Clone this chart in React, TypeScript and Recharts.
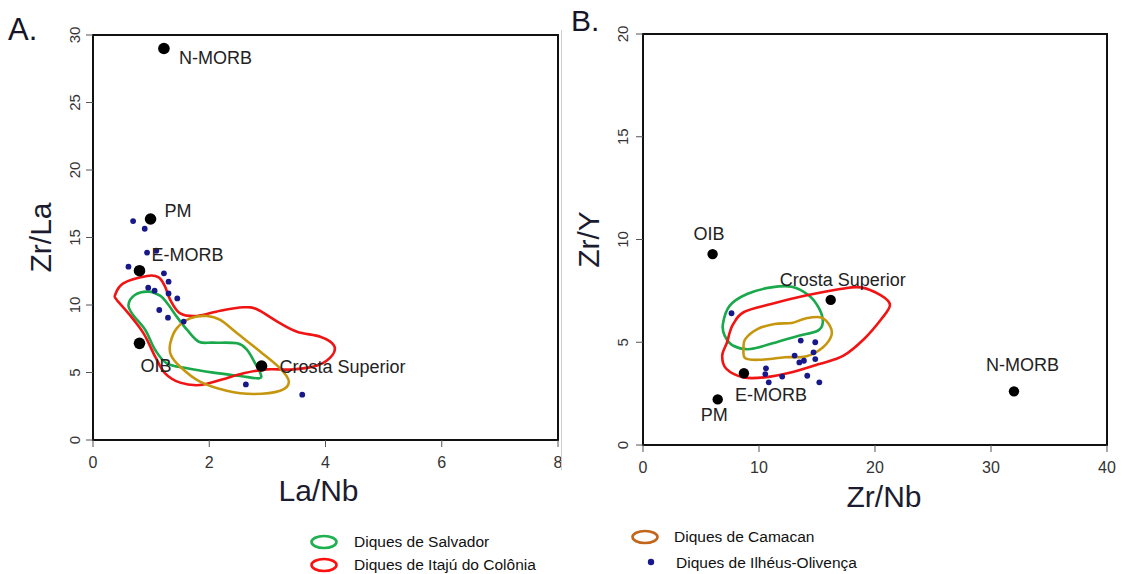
import { ScatterChart, Scatter, XAxis, YAxis, ReferenceArea, Label } from 'recharts'

// ---- Panel A: Zr/La vs La/Nb ----
const A_REF_NAMES = ['N-MORB', 'PM', 'E-MORB', 'OIB', 'Crosta Superior']
const A_REF_X = [1.22, 0.99, 0.8, 0.8, 2.9]
const A_REF_Y = [29.0, 16.37, 12.54, 7.16, 5.48]

const A_ILHEUS_X = [0.69, 0.89, 0.93, 1.09, 0.61, 1.22, 1.3, 0.95, 1.06, 1.3, 1.45, 1.14, 1.29, 1.56, 2.63, 3.6]
const A_ILHEUS_Y = [16.22, 15.65, 13.88, 14.02, 12.84, 12.35, 11.73, 11.28, 11.06, 10.86, 10.49, 9.63, 9.06, 8.77, 4.12, 3.36]

const A_SALVADOR = [
  [0.61, 10.0], [0.72, 10.74], [0.95, 10.99], [1.16, 10.67], [1.3, 10.0], [1.44, 9.14], [1.62, 8.15],
  [1.82, 7.28], [2.07, 7.21], [2.48, 7.16], [2.65, 6.67], [2.79, 5.68], [2.88, 4.94], [2.86, 4.57],
  [2.53, 4.74], [2.07, 4.99], [1.62, 5.31], [1.27, 5.68], [1.07, 6.67], [0.9, 8.15], [0.69, 9.26],
]
const A_ITAJU = [
  [0.38, 10.74], [0.52, 11.6], [0.93, 12.15], [1.13, 12.05], [1.24, 11.36], [1.33, 10.37], [1.5, 9.38],
  [1.79, 9.19], [2.19, 9.58], [2.59, 9.83], [2.82, 9.68], [3.17, 8.77], [3.51, 8.02], [3.91, 7.65],
  [4.14, 7.04], [4.12, 6.3], [3.88, 5.56], [3.45, 5.23], [2.99, 5.23], [2.59, 4.94], [2.19, 4.44],
  [1.84, 4.07], [1.5, 4.25], [1.24, 4.94], [1.07, 6.17], [0.87, 7.9], [0.61, 9.38], [0.41, 10.37],
]
const A_CAMACAN = [
  [1.33, 7.16], [1.44, 8.27], [1.67, 9.01], [1.96, 9.19], [2.19, 8.89], [2.48, 7.9], [2.88, 6.54],
  [3.22, 5.31], [3.37, 4.32], [3.22, 3.65], [2.76, 3.41], [2.3, 3.65], [1.84, 4.32], [1.5, 5.43], [1.34, 6.3],
]

// ---- Panel B: Zr/Y vs Zr/Nb ----
const B_REF_NAMES = ['OIB', 'Crosta Superior', 'E-MORB', 'PM', 'N-MORB']
const B_REF_X = [6.0, 16.18, 8.7, 6.44, 31.98]
const B_REF_Y = [9.29, 7.06, 3.49, 2.22, 2.61]

const B_ILHEUS_X = [7.63, 13.6, 14.85, 13.07, 14.7, 13.48, 13.87, 14.85, 10.6, 10.54, 12.0, 10.84, 14.16, 15.2]
const B_ILHEUS_Y = [6.41, 5.08, 5.0, 4.35, 4.51, 4.02, 4.1, 4.18, 3.73, 3.45, 3.33, 3.05, 3.37, 3.05]

const B_SALVADOR = [
  [6.89, 5.89], [7.48, 6.78], [8.97, 7.35], [11.05, 7.67], [12.83, 7.7], [14.31, 7.27], [15.2, 6.62],
  [15.5, 5.97], [15.06, 5.56], [13.42, 5.32], [11.64, 5.03], [9.27, 4.67], [7.78, 4.83], [7.04, 5.32],
]
const B_ITAJU = [
  [7.78, 5.89], [8.67, 6.46], [11.05, 6.86], [14.02, 7.27], [16.99, 7.59], [18.77, 7.67], [20.55, 7.27],
  [21.29, 6.81], [20.55, 6.13], [19.06, 5.16], [17.28, 4.35], [15.2, 3.94], [12.83, 3.54], [10.45, 3.29],
  [8.67, 3.29], [7.19, 3.7], [6.83, 4.35], [7.25, 5.0], [7.48, 5.48],
]
const B_CAMACAN = [
  [8.82, 5.16], [9.86, 5.64], [11.34, 5.89], [12.83, 5.94], [14.02, 6.16], [15.35, 6.21], [16.1, 5.81],
  [16.24, 5.32], [15.5, 4.75], [14.02, 4.31], [12.23, 4.27], [10.16, 4.15], [8.82, 4.22], [8.67, 4.75],
]

const A_X_TICKS = [0, 2, 4, 6, 8]
const A_Y_TICKS = [0, 5, 10, 15, 20, 25, 30]
const B_X_TICKS = [0, 10, 20, 30, 40]
const B_Y_TICKS = [0, 5, 10, 15, 20]

// label placement (px from the point), kept apart from the data
const A_LABEL_OFFSET: Record<string, [number, number]> = {
  'N-MORB': [15, 15], PM: [14, -2], 'E-MORB': [12, -10], OIB: [1, 29], 'Crosta Superior': [18, 7],
}
const B_LABEL_OFFSET: Record<string, [number, number]> = {
  OIB: [-19, -14], 'Crosta Superior': [-51, -14], 'E-MORB': [-9, 28], PM: [-17, 22], 'N-MORB': [-28, -20],
}

const GREEN = '#19a84a'
const RED = '#f01414'
const GOLD = '#c6970e'
const NAVY = '#17198a'
const FONT = '"Liberation Sans", Arial, sans-serif'

const zipPts = (xs: number[], ys: number[]) => xs.map((x, i) => ({ x, y: ys[i] }))
const pairPts = (arr: number[][]) => arr.map(([x, y]) => ({ x, y }))
const refPts = (names: string[], xs: number[], ys: number[]) => names.map((name, i) => ({ name, x: xs[i], y: ys[i] }))

// closed Catmull-Rom curve, used as the line type for the contour outlines
// eslint-disable-next-line @typescript-eslint/no-explicit-any
function closedCurve(context: any) {
  let pts: [number, number][] = []
  return {
    areaStart() {},
    areaEnd() {},
    lineStart() { pts = [] },
    point(x: number, y: number) { pts.push([x, y]) },
    lineEnd() {
      const n = pts.length
      if (n < 3) return
      context.moveTo(pts[0][0], pts[0][1])
      for (let i = 0; i < n; i++) {
        const p0 = pts[(i - 1 + n) % n]
        const p1 = pts[i]
        const p2 = pts[(i + 1) % n]
        const p3 = pts[(i + 2) % n]
        context.bezierCurveTo(
          p1[0] + (p2[0] - p0[0]) / 6, p1[1] + (p2[1] - p0[1]) / 6,
          p2[0] - (p3[0] - p1[0]) / 6, p2[1] - (p3[1] - p1[1]) / 6,
          p2[0], p2[1],
        )
      }
      context.closePath()
    },
  }
}

const NoDot = () => <g />

function NavyDot(props: any) {
  return <circle cx={props.cx} cy={props.cy} r={2.9} fill={NAVY} />
}

function makeRefShape(offsets: Record<string, [number, number]>, r: number) {
  return function RefShape(props: any) {
    const { cx, cy, payload } = props
    const [dx, dy] = offsets[payload.name] || [8, 0]
    return (
      <g>
        <circle cx={cx} cy={cy} r={r} fill="#000" />
        <text x={cx + dx} y={cy + dy} fontSize={18} fill="#222" fontFamily={FONT}>{payload.name}</text>
      </g>
    )
  }
}

function RotTick(props: any) {
  const { x, y, payload } = props
  return (
    <text x={x} y={y} transform={`rotate(-90 ${x} ${y})`} textAnchor="middle" dominantBaseline="central"
      fontSize={15} fill="#333" fontFamily={FONT}>
      {payload.value}
    </text>
  )
}

const TITLE_STYLE = { fontSize: 30, fill: '#1c1c30', fontFamily: FONT }

function contour(key: string, data: number[][], color: string) {
  return (
    <Scatter
      key={key}
      data={pairPts(data)}
      line={{ stroke: color, strokeWidth: 2.6 }}
      lineType="joint"
      lineJointType={closedCurve as any}
      shape={NoDot}
      isAnimationActive={false}
    />
  )
}

function PanelA() {
  return (
    <ScatterChart width={580} height={520} margin={{ top: 35, right: 22, bottom: 10, left: 23 }}>
      <XAxis type="number" dataKey="x" domain={[0, 8]} ticks={A_X_TICKS} height={70} axisLine={false}
        tickLine={{ stroke: '#555' }} tickSize={7} tickMargin={10} tick={{ fontSize: 16, fill: '#333' }} allowDataOverflow>
        <Label value="La/Nb" position="insideBottom" offset={9} dx={-7} style={TITLE_STYLE} />
      </XAxis>
      <YAxis type="number" dataKey="y" domain={[0, 30]} ticks={A_Y_TICKS} width={70} axisLine={false}
        tickLine={{ stroke: '#555' }} tickSize={7} tickMargin={12} tick={<RotTick />} allowDataOverflow>
        <Label value="Zr/La" angle={-90} position="insideLeft" offset={17} style={{ ...TITLE_STYLE, textAnchor: 'middle' }} />
      </YAxis>
      <ReferenceArea x1={0} x2={8} y1={0} y2={30} fill="none" stroke="#111" strokeWidth={2} ifOverflow="visible" />
      {contour('a-sal', A_SALVADOR, GREEN)}
      {contour('a-ita', A_ITAJU, RED)}
      {contour('a-cam', A_CAMACAN, GOLD)}
      <Scatter data={zipPts(A_ILHEUS_X, A_ILHEUS_Y)} shape={NavyDot} isAnimationActive={false} />
      <Scatter data={refPts(A_REF_NAMES, A_REF_X, A_REF_Y)} shape={makeRefShape(A_LABEL_OFFSET, 5.8)} isAnimationActive={false} />
    </ScatterChart>
  )
}

function PanelB() {
  return (
    <ScatterChart width={565} height={520} margin={{ top: 34, right: 18, bottom: 5, left: 23 }}>
      <XAxis type="number" dataKey="x" domain={[0, 40]} ticks={B_X_TICKS} height={70} axisLine={false}
        tickLine={{ stroke: '#555' }} tickSize={7} tickMargin={10} tick={{ fontSize: 16, fill: '#333' }} allowDataOverflow>
        <Label value="Zr/Nb" position="insideBottom" offset={8} dx={9} style={TITLE_STYLE} />
      </XAxis>
      <YAxis type="number" dataKey="y" domain={[0, 20]} ticks={B_Y_TICKS} width={60} axisLine={false}
        tickLine={{ stroke: '#555' }} tickSize={7} tickMargin={14} tick={<RotTick />} allowDataOverflow>
        <Label value="Zr/Y" angle={-90} position="insideLeft" offset={5} style={{ ...TITLE_STYLE, textAnchor: 'middle' }} />
      </YAxis>
      <ReferenceArea x1={0} x2={40} y1={0} y2={20} fill="none" stroke="#111" strokeWidth={2} ifOverflow="visible" />
      {contour('b-sal', B_SALVADOR, GREEN)}
      {contour('b-ita', B_ITAJU, RED)}
      {contour('b-cam', B_CAMACAN, GOLD)}
      <Scatter data={zipPts(B_ILHEUS_X, B_ILHEUS_Y)} shape={NavyDot} isAnimationActive={false} />
      <Scatter data={refPts(B_REF_NAMES, B_REF_X, B_REF_Y)} shape={makeRefShape(B_LABEL_OFFSET, 5.2)} isAnimationActive={false} />
    </ScatterChart>
  )
}

function Ring({ color }: { color: string }) {
  return (
    <svg width={32} height={18} style={{ display: 'block' }}>
      <ellipse cx={16} cy={9} rx={12.5} ry={6} fill="none" stroke={color} strokeWidth={2.6} />
    </svg>
  )
}

const LEGEND_TEXT: React.CSSProperties = { position: 'absolute', fontSize: 15.5, color: '#111', lineHeight: '18px', whiteSpace: 'nowrap' }

export default function App() {
  return (
    <div style={{ position: 'absolute', left: 0, top: 0, width: 1125, height: 574, background: '#fff', fontFamily: FONT, overflow: 'hidden' }}>
      <div style={{ position: 'absolute', left: 0, top: 0 }}><PanelA /></div>
      <div style={{ position: 'absolute', left: 560, top: 0 }}><PanelB /></div>
      <div style={{ position: 'absolute', left: 561, top: 30, width: 1, height: 440, background: '#cccccc' }} />
      <div style={{ position: 'absolute', left: 8, top: 13, fontSize: 31, color: '#15152a', lineHeight: '34px' }}>A.</div>
      <div style={{ position: 'absolute', left: 571, top: 4, fontSize: 30, color: '#15152a', lineHeight: '34px' }}>B.</div>

      <div style={{ position: 'absolute', left: 308, top: 533 }}><Ring color="#1cb04e" /></div>
      <div style={{ ...LEGEND_TEXT, left: 354, top: 533 }}>Diques de Salvador</div>
      <div style={{ position: 'absolute', left: 308, top: 556 }}><Ring color="#ff1010" /></div>
      <div style={{ ...LEGEND_TEXT, left: 354, top: 556 }}>Diques de Itajú do Colônia</div>
      <div style={{ position: 'absolute', left: 629, top: 528 }}><Ring color="#c2661c" /></div>
      <div style={{ ...LEGEND_TEXT, left: 674, top: 528 }}>Diques de Camacan</div>
      <svg width={10} height={10} style={{ position: 'absolute', left: 646, top: 557 }}>
        <circle cx={5} cy={5} r={3.2} fill={NAVY} />
      </svg>
      <div style={{ ...LEGEND_TEXT, left: 676, top: 554 }}>Diques de Ilhéus-Olivença</div>
    </div>
  )
}
